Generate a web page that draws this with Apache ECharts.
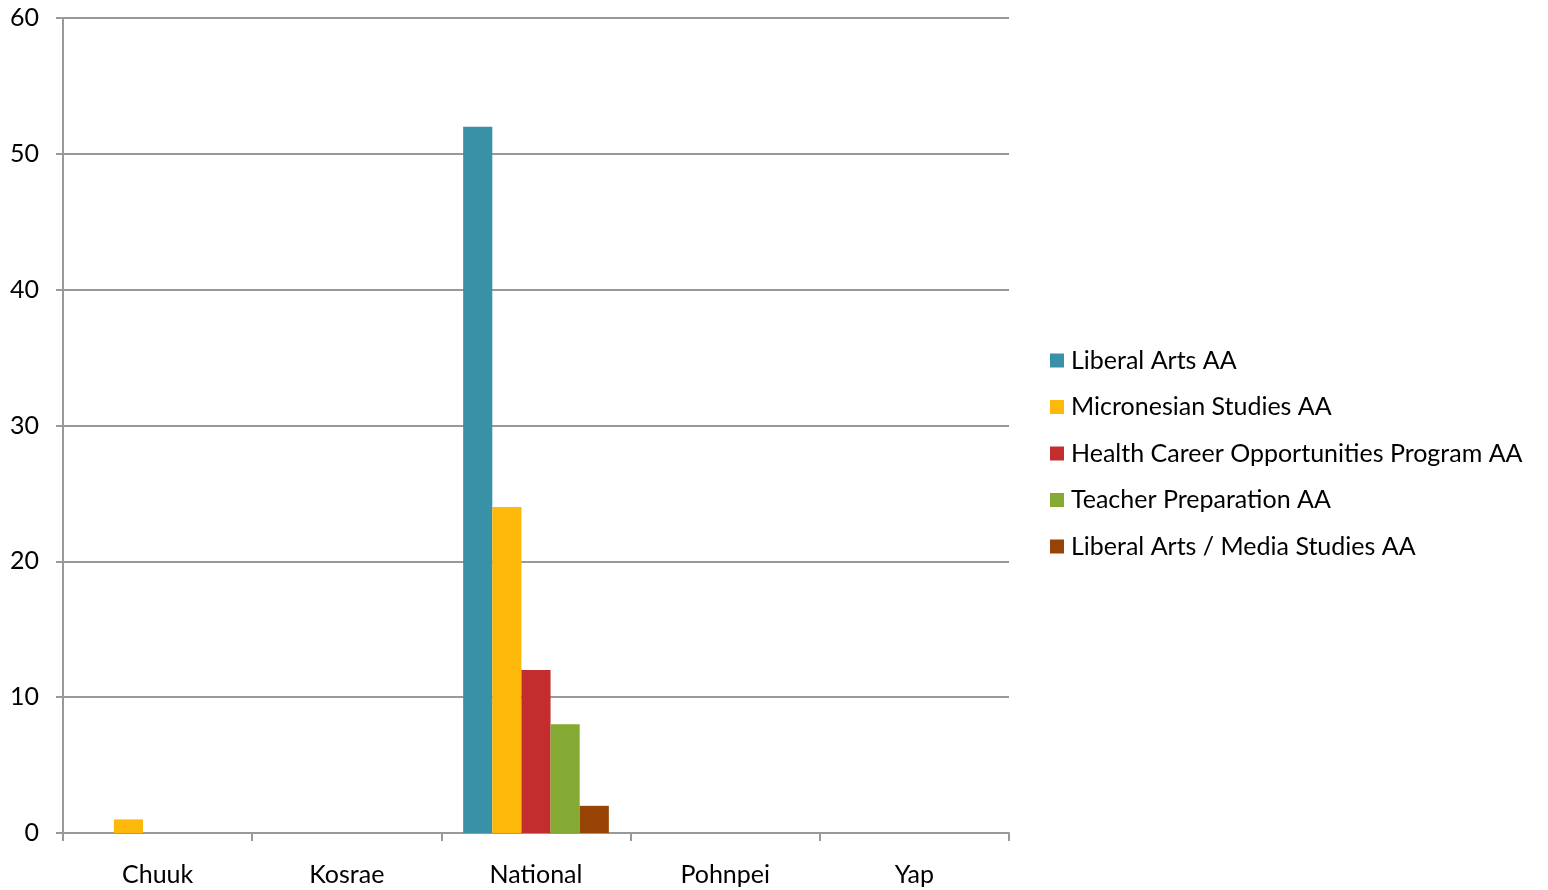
<!DOCTYPE html>
<html>
<head>
<meta charset="utf-8">
<script src="https://cdn.jsdelivr.net/npm/echarts@6/dist/echarts.min.js"></script>
<style>html,body{margin:0;padding:0;background:#fff}#c{width:1548px;height:890px}</style>
</head>
<body>
<div id="c"></div>
<script>
const categories = ['Chuuk', 'Kosrae', 'National', 'Pohnpei', 'Yap'];
const seriesNames = ['Liberal Arts AA', 'Micronesian Studies AA', 'Health Career Opportunities Program AA', 'Teacher Preparation AA', 'Liberal Arts / Media Studies AA'];
const liberalArts = [0, 0, 52, 0, 0];
const micronesianStudies = [1, 0, 24, 0, 0];
const healthCareer = [0, 0, 12, 0, 0];
const teacherPrep = [0, 0, 8, 0, 0];
const mediaStudies = [0, 0, 2, 0, 0];
const colors = ['#3891A7', '#FEB80A', '#C32D2E', '#84AA33', '#964305'];
const values = [liberalArts, micronesianStudies, healthCareer, teacherPrep, mediaStudies];

const font = 'Lato, "Open Sans", sans-serif';
const chart = echarts.init(document.getElementById('c'));
chart.setOption({
  animation: false,
  color: colors,
  grid: {left: 63, right: 539, top: 18, bottom: 57, containLabel: false},
  legend: {
    orient: 'vertical', left: 1050, top: 348, padding: 0,
    itemWidth: 14, itemHeight: 14, itemGap: 21.5, icon: 'rect',
    textStyle: {fontFamily: font, fontSize: 25, color: '#000', lineHeight: 23, padding: [0, 0, 0, 2]},
    data: seriesNames
  },
  xAxis: {
    type: 'category', data: categories,
    axisLine: {lineStyle: {color: '#999', width: 2}},
    axisTick: {show: true, length: 8, lineStyle: {color: '#999', width: 2}},
    axisLabel: {fontFamily: font, fontSize: 25, color: '#000', margin: 29}
  },
  yAxis: {
    type: 'value', min: 0, max: 60, interval: 10,
    axisLine: {show: true, lineStyle: {color: '#999', width: 2}},
    axisTick: {show: true, length: 7, lineStyle: {color: '#999', width: 2}},
    axisLabel: {fontFamily: font, fontSize: 25, color: '#000', margin: 24},
    splitLine: {lineStyle: {color: '#999', width: 2}}
  },
  series: seriesNames.map((n, i) => ({
    name: n, type: 'bar', data: values[i],
    barGap: '0%', barCategoryGap: '23%',
    itemStyle: {color: colors[i]}
  }))
});
</script>
</body>
</html>
